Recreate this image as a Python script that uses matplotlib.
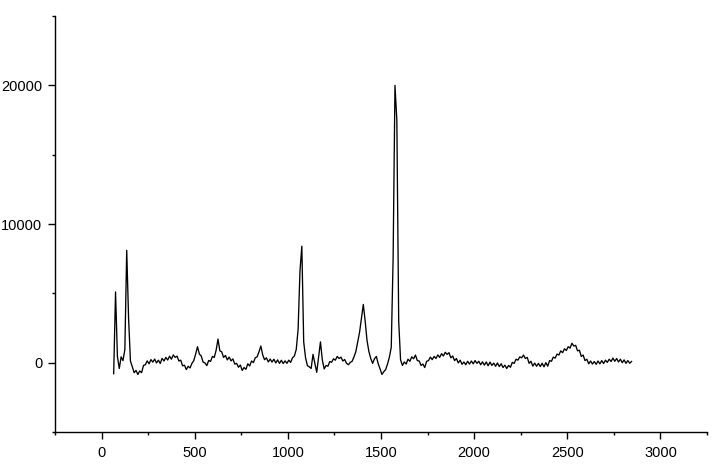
import numpy as np
import matplotlib
matplotlib.use("Agg")
import matplotlib.pyplot as plt
from matplotlib.ticker import MultipleLocator, FixedLocator

start_x = 65
step_x = 10
intensity = [
    # 65-155
    -800, 5100, 450, -420, 420, 150, 950, 8100, 3200, 120,
    # 165-255
    -300, -720, -560, -850, -600, -720, -200, -150, 130, -80,
    # 265-355
    220, 40, 260, -20, 180, -60, 310, 120, 380, 190,
    # 365-455
    470, 250, 560, 380, 470, 120, 180, -230, -180, -500,
    # 465-555
    -260, -380, -50, 150, 620, 1150, 620, 480, 40, -20,
    # 565-655
    -210, 160, 90, 450, 380, 900, 1700, 850, 780, 380,
    # 665-755
    520, 200, 400, 130, 270, -100, -50, -330, -170, -560,
    # 765-855
    -350, -480, -80, -240, 120, 10, 350, 420, 780, 1200,
    # 865-955
    560, 210, 350, 50, 260, 40, 250, -20, 200, -50,
    # 965-1055
    170, -60, 130, -50, 180, 20, 350, 480, 950, 2400,
    # 1065-1155
    6600, 8400, 1500, 350, -220, -300, -420, 600, -50, -700,
    # 1165-1255
    400, 1500, 200, -450, -200, -260, 80, 30, 280, 180,
    # 1265-1355
    450, 300, 400, 120, 230, -50, -150, 20, 100, 420,
    # 1365-1455
    800, 1500, 2200, 3200, 4200, 3000, 1600, 800, 300, -50,
    # 1465-1555
    280, 450, -80, -450, -850, -650, -500, -100, 400, 1100,
    # 1565-1655
    7500, 20000, 17500, 3000, 200, -200, 50, -100, 250, 100,
    # 1665-1755
    420, 280, 550, 150, 120, -200, -100, -350, 100, 150,
    # 1765-1855
    400, 220, 450, 300, 560, 380, 650, 480, 750, 600,
    # 1865-1955
    720, 350, 480, 150, 300, -20, 180, -120, 50, -150,
    # 1965-2055
    100, -100, 120, -80, 150, -50, 100, -150, 60, -180,
    # 2065-2155
    50, -220, 40, -200, -30, -260, -20, -280, -80, -350,
    # 2165-2255
    -180, -420, -200, -330, 20, -50, 250, 180, 420, 350,
    # 2265-2355
    550, 300, 380, -50, 100, -250, -30, -260, -50, -280,
    # 2365-2455
    -40, -300, 0, -250, 150, 100, 400, 330, 620, 550,
    # 2465-2555
    850, 720, 1000, 880, 1150, 1050, 1400, 1200, 1250, 850,
    # 2565-2655
    900, 450, 550, 150, 250, -80, 120, -100, 80, -120,
    # 2665-2755
    120, -80, 150, -60, 180, 20, 250, 80, 330, 100,
    # 2765-2845
    300, 50, 250, 0, 200, -50, 150, -40, 80,
]
wavenumber = start_x + step_x * np.arange(len(intensity))

x_major_ticks = [0, 500, 1000, 1500, 2000, 2500, 3000]
y_major_ticks = [0, 10000, 20000]

plt.rcParams['font.family'] = ['Liberation Sans', 'DejaVu Sans']

fig = plt.figure(figsize=(7.28, 4.68), dpi=100)
ax = fig.add_axes([55/728, 1 - 432/468, (707 - 55)/728, (432 - 16)/468])
ax.plot(wavenumber, intensity, color='black', linewidth=0.95)

ax.set_xlim(-250, 3250)
ax.set_ylim(-5000, 25000)
ax.xaxis.set_major_locator(FixedLocator(x_major_ticks))
ax.xaxis.set_minor_locator(MultipleLocator(500, offset=250))
ax.yaxis.set_major_locator(FixedLocator(y_major_ticks))
ax.yaxis.set_minor_locator(MultipleLocator(10000, offset=5000))

for s in ['top', 'right']:
    ax.spines[s].set_visible(False)
for s in ['left', 'bottom']:
    ax.spines[s].set_linewidth(1.0)

ax.tick_params(axis='both', which='major', direction='out', length=5, width=1.0,
               labelsize=10.5, colors='black')
ax.tick_params(axis='both', which='minor', direction='out', length=2.5, width=1.0)
ax.tick_params(axis='x', which='major', pad=5)
ax.tick_params(axis='y', which='major', pad=4)

fig.savefig('out.png', dpi=100)
